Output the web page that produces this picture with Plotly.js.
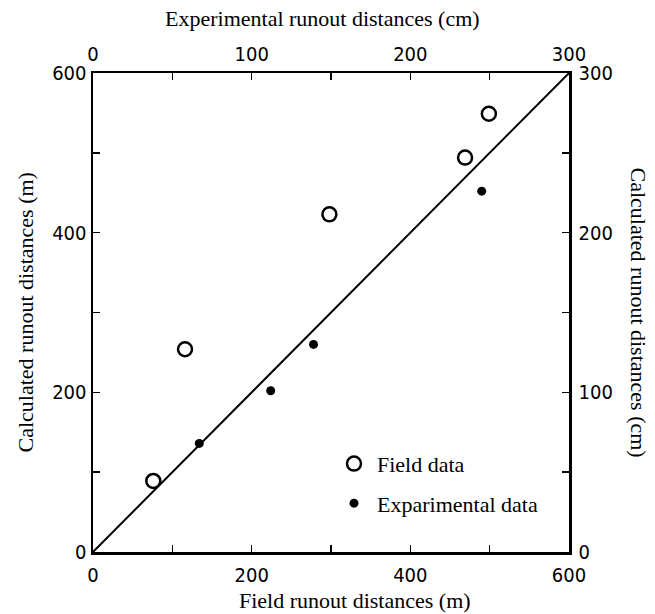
<!DOCTYPE html>
<html>
<head>
<meta charset="utf-8">
<script src="https://cdn.plot.ly/plotly-3.0.1.min.js"></script>
<style>html,body{margin:0;padding:0;background:#fff;}#chart{width:655px;height:614px;}</style>
</head>
<body>
<div id="chart"></div>
<script>
// Field data (m)
const fieldX = [76, 116, 298, 469, 499];
const fieldY = [89, 254, 423, 494, 549];
// Experimental data (cm)
const expX = [67, 112, 139, 245];
const expY = [68, 101, 130, 226];
// 1:1 reference line (m)
const lineX = [0, 600];
const lineY = [0, 600];
// ticks
const mTickVals = [0, 100, 200, 300, 400, 500, 600];
const mTickText = ['0', '', '200', '', '400', '', '600'];
const cmTickVals = [0, 50, 100, 150, 200, 250, 300];
const cmTickText = ['0', '', '100', '', '200', '', '300'];

const serif = 'Liberation Serif, Times New Roman, serif';
const titleFont = {family: serif, size: 22, color: '#000'};
const tickFont = {family: 'Liberation Sans Narrow, DejaVu Sans Condensed, Arial Narrow, Liberation Sans, sans-serif', size: 20, color: '#000'};

const traces = [
  {x: lineX, y: lineY, mode: 'lines', line: {color: '#000', width: 2}, showlegend: false, hoverinfo: 'skip'},
  {x: fieldX, y: fieldY, mode: 'markers', name: 'Field data', legendgroup: 'a',
   marker: {symbol: 'circle-open', size: 14, color: '#000', line: {width: 2.5, color: '#000'}}},
  {x: expX, y: expY, xaxis: 'x2', yaxis: 'y2', mode: 'markers', name: 'Exparimental data', legendgroup: 'b',
   marker: {symbol: 'circle', size: 9, color: '#000'}}
];

const axCommon = {showgrid: false, zeroline: false, showline: true, linecolor: '#000', linewidth: 2.5,
  ticks: 'inside', ticklen: 7, tickwidth: 1.5, tickcolor: '#000', tickfont: tickFont, tickmode: 'array', fixedrange: true};

const layout = {
  width: 655, height: 614,
  margin: {l: 93, r: 86, t: 73, b: 62},
  paper_bgcolor: '#fff', plot_bgcolor: '#fff',
  showlegend: true,
  legend: {x: 0.5, y: 0.228, xanchor: 'left', yanchor: 'top', bgcolor: 'rgba(0,0,0,0)',
    font: {family: serif, size: 22, color: '#000'}, traceorder: 'grouped', tracegroupgap: 8, itemwidth: 36},
  xaxis: Object.assign({}, axCommon, {range: [0, 600], tickvals: mTickVals, ticktext: mTickText, ticklabelstandoff: 3}),
  yaxis: Object.assign({}, axCommon, {range: [0, 600], tickvals: mTickVals, ticktext: mTickText}),
  xaxis2: Object.assign({}, axCommon, {range: [0, 300], overlaying: 'x', side: 'top', anchor: 'y',
    tickvals: cmTickVals, ticktext: cmTickText, ticklabelstandoff: 2}),
  yaxis2: Object.assign({}, axCommon, {range: [0, 300], overlaying: 'y', side: 'right', anchor: 'x',
    tickvals: cmTickVals, ticktext: cmTickText, ticklabelstandoff: 3}),
  annotations: [
    {text: 'Field runout distances (m)', xref: 'paper', yref: 'paper', x: 0.55, y: 0, yshift: -48,
     xanchor: 'center', yanchor: 'middle', showarrow: false, font: titleFont},
    {text: 'Experimental runout distances (cm)', xref: 'paper', yref: 'paper', x: 0.483, y: 1, yshift: 55,
     xanchor: 'center', yanchor: 'middle', showarrow: false, font: titleFont},
    {text: 'Calculated runout distances (m)', xref: 'paper', yref: 'paper', x: 0, y: 0.5, xshift: -68,
     xanchor: 'center', yanchor: 'middle', textangle: -90, showarrow: false, font: titleFont},
    {text: 'Calculated runout distances (cm)', xref: 'paper', yref: 'paper', x: 1, y: 0.5, xshift: 69,
     xanchor: 'center', yanchor: 'middle', textangle: 90, showarrow: false, font: titleFont}
  ]
};

Plotly.newPlot('chart', traces, layout, {displayModeBar: false, staticPlot: true});
</script>
</body>
</html>
